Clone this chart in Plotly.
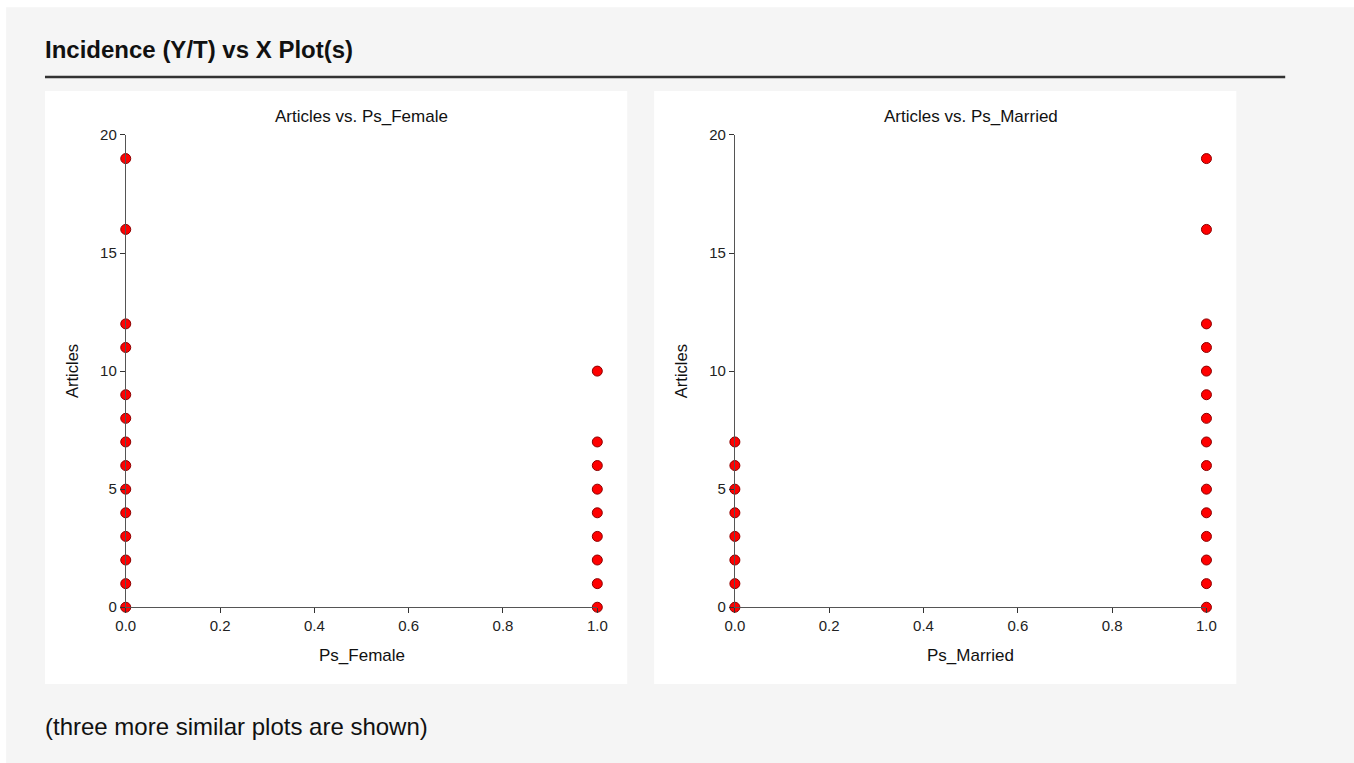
import plotly.graph_objects as go

# The rendered picture maps figure pixel f to picture pixel (f + 8) * s
SX, SY = 1354 / 1370, 763 / 779
OFF = 8
W, H = 1362, 771  # figure size so that it covers the full picture

# Data
fem_x0_articles = [0, 1, 2, 3, 4, 5, 6, 7, 8, 9, 11, 12, 16, 19]
fem_x1_articles = [0, 1, 2, 3, 4, 5, 6, 7, 10]
mar_x0_articles = [0, 1, 2, 3, 4, 5, 6, 7]
mar_x1_articles = [0, 1, 2, 3, 4, 5, 6, 7, 8, 9, 10, 11, 12, 16, 19]
x_ticks = [0.0, 0.2, 0.4, 0.6, 0.8, 1.0]
y_ticks = [0, 5, 10, 15, 20]
panel_titles = ["Articles vs. Ps_Female", "Articles vs. Ps_Married"]
x_titles = ["Ps_Female", "Ps_Married"]
y_title = "Articles"

def px(t):
    return (t / SX - OFF) / W

def py(t):
    return 1 - (t / SY - OFF) / H

FONT = "Liberation Sans, Arial, sans-serif"
fig = go.Figure()

marker = dict(size=10, color="#ff0000", line=dict(width=1, color="#8b0000"))

panels = [
    (fem_x0_articles, fem_x1_articles, "x", "y"),
    (mar_x0_articles, mar_x1_articles, "x2", "y2"),
]
for a0, a1, xa, ya in panels:
    xs = [0.0] * len(a0) + [1.0] * len(a1)
    ys = a0 + a1
    fig.add_trace(go.Scatter(x=xs, y=ys, mode="markers", marker=marker,
                             xaxis=xa, yaxis=ya, cliponaxis=False,
                             showlegend=False, hoverinfo="x+y"))

axis_common = dict(showline=True, linecolor="#555555", linewidth=1,
                   ticks="outside", ticklen=5, tickcolor="#333333",
                   showgrid=False, zeroline=False,
                   tickfont=dict(family=FONT, size=15, color="#222222"))

plot_areas = [(124, 597), (735, 1208)]
ytop, ybot = 134, 607
layout_axes = {}
for i, (x0, x1) in enumerate(plot_areas):
    sfx = "" if i == 0 else str(i + 1)
    layout_axes["xaxis" + sfx] = dict(domain=[px(x0), px(x1)], range=[0, 1],
                                      tickvals=x_ticks, tickformat=".1f",
                                      anchor="y" + sfx, **axis_common)
    layout_axes["yaxis" + sfx] = dict(domain=[py(ybot), py(ytop)], range=[0, 20],
                                      tickvals=y_ticks, anchor="x" + sfx,
                                      **axis_common)

shapes = [
    dict(type="rect", xref="paper", yref="paper", x0=px(4), x1=1.01,
         y0=-0.01, y1=py(6), fillcolor="#f5f5f5", line=dict(width=0), layer="below"),
    dict(type="rect", xref="paper", yref="paper", x0=px(43), x1=px(627),
         y0=py(684), y1=py(90), fillcolor="#ffffff", line=dict(width=0), layer="below"),
    dict(type="rect", xref="paper", yref="paper", x0=px(654), x1=px(1238),
         y0=py(684), y1=py(90), fillcolor="#ffffff", line=dict(width=0), layer="below"),
    dict(type="line", xref="paper", yref="paper", x0=px(43), x1=px(1287),
         y0=py(76), y1=py(76), line=dict(width=2.5, color="#333333")),
]

annotations = [
    dict(text="<b>Incidence (Y/T) vs X Plot(s)</b>", x=px(41), y=py(48),
         xref="paper", yref="paper",
         xanchor="left", yanchor="middle", showarrow=False,
         font=dict(family=FONT, size=24, color="#111111")),
    dict(text="(three more similar plots are shown)", x=px(41), y=py(726),
         xref="paper", yref="paper",
         xanchor="left", yanchor="middle", showarrow=False,
         font=dict(family=FONT, size=24, color="#111111")),
]
for i, (x0, x1) in enumerate(plot_areas):
    cx = (x0 + x1) / 2
    annotations.append(dict(text=panel_titles[i], x=px(cx), y=py(116),
                            xref="paper", yref="paper",
                            xanchor="center", yanchor="middle", showarrow=False,
                            font=dict(family=FONT, size=17, color="#111111")))
    annotations.append(dict(text=x_titles[i], x=px(cx), y=py(655),
                            xref="paper", yref="paper",
                            xanchor="center", yanchor="middle", showarrow=False,
                            font=dict(family=FONT, size=17, color="#111111")))
    annotations.append(dict(text=y_title, x=px(x0 - 54), y=py((ytop + ybot) / 2),
                            xref="paper", yref="paper",
                            xanchor="center", yanchor="middle", showarrow=False,
                            textangle=-90,
                            font=dict(family=FONT, size=16.5, color="#111111")))

fig.update_layout(width=W, height=H, autosize=False,
                  margin=dict(l=0, r=0, t=0, b=0),
                  paper_bgcolor="#ffffff", plot_bgcolor="rgba(0,0,0,0)",
                  shapes=shapes, annotations=annotations, **layout_axes)

fig.write_html("out.html", config={"displayModeBar": False},
               post_script="document.body.style.margin='0px';")
